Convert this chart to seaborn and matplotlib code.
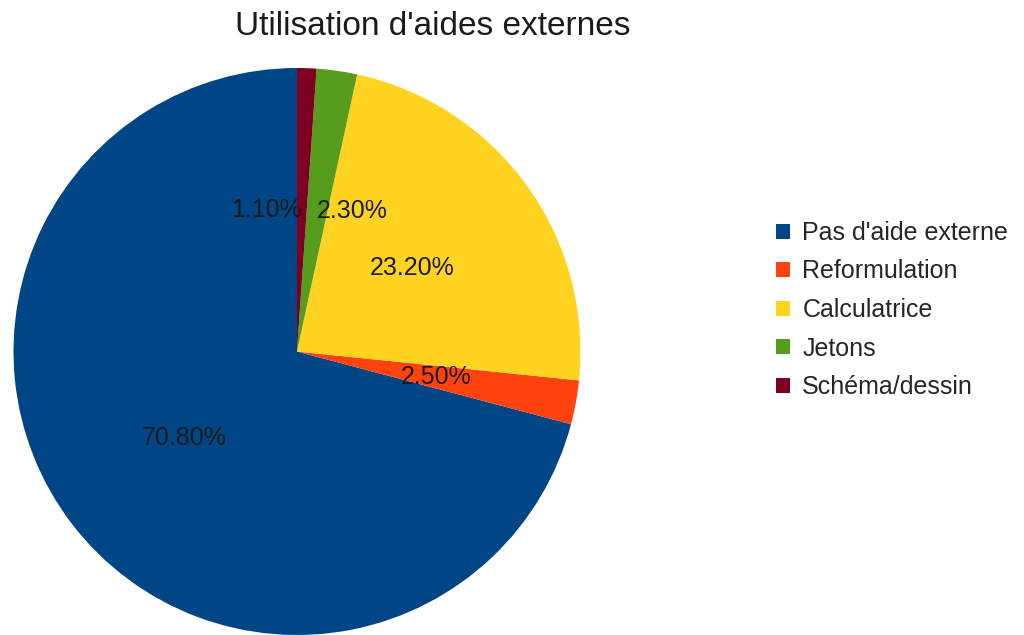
import matplotlib
matplotlib.use("Agg")
import matplotlib.pyplot as plt
import seaborn as sns

categories = ["Pas d'aide externe", "Reformulation", "Calculatrice", "Jetons", "Schéma/dessin"]
values = [70.8, 2.5, 23.2, 2.3, 1.1]
colors_hex = ["#004586", "#ff420e", "#ffd320", "#579d1c", "#7e0021"]
title = "Utilisation d'aides externes"

sns.set_theme(style="white")
plt.rcParams['font.family'] = ['Liberation Sans', 'DejaVu Sans']

palette = sns.color_palette(colors_hex)
total = sum(values)

fig = plt.figure(figsize=(10.24, 6.35), dpi=100)
ax = fig.add_axes([13.5 / 1024, 0.0, 567 / 1024, 567 / 635])

wedges, texts, autotexts = ax.pie(
    values,
    colors=palette,
    startangle=90,
    counterclock=True,
    autopct=lambda p: f"{p * total / 100:.2f}%",
    pctdistance=0.5,
    wedgeprops=dict(linewidth=0),
    textprops=dict(fontsize=18, color="#1a1a1a"),
)
ax.set_xlim(-1, 1)
ax.set_ylim(-1, 1)
ax.axis("off")

# small slices: shift text alignment away from the narrow wedges
autotexts[4].set_ha("right")
autotexts[3].set_ha("left")

fig.text(433 / 1024, 1 - 35 / 635, title, ha="center", va="baseline",
         fontsize=24, color="#1a1a1a")

fig.legend(
    wedges, categories,
    loc="center left",
    bbox_to_anchor=(776 / 1024, 1 - 310 / 635),
    frameon=False,
    fontsize=18,
    handlelength=0.55,
    handleheight=0.55,
    handletextpad=0.5,
    labelspacing=0.58,
    borderpad=0,
    borderaxespad=0,
)

fig.savefig("out.png", dpi=100)
